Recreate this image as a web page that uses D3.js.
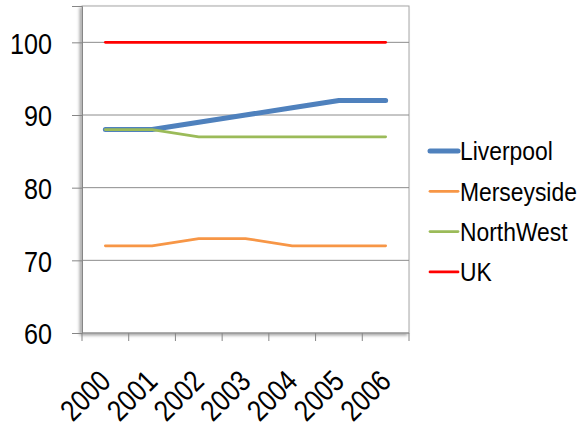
<!DOCTYPE html>
<html>
<head>
<meta charset="utf-8">
<script src="https://cdn.jsdelivr.net/npm/d3@7"></script>
<style>
  body { margin: 0; background: #fff; }
  svg text { font-family: "Liberation Sans", Arial, sans-serif; fill: #000; }
</style>
</head>
<body>
<div id="chart"></div>
<script>
const years = ["2000", "2001", "2002", "2003", "2004", "2005", "2006"];
const liverpool = [88, 88, 89, 90, 91, 92, 92];
const merseyside = [72, 72, 73, 73, 72, 72, 72];
const northWest = [88, 88, 87, 87, 87, 87, 87];
const uk = [100, 100, 100, 100, 100, 100, 100];
const yTicks = [60, 70, 80, 90, 100];

const series = [
  { name: "Liverpool", values: liverpool, color: "#4f81bd", width: 5 },
  { name: "Merseyside", values: merseyside, color: "#f79646", width: 2.75 },
  { name: "NorthWest", values: northWest, color: "#9bbb59", width: 2.75 },
  { name: "UK", values: uk, color: "#ff0000", width: 2.75 },
];

const width = 583;
const height = 425;
const margin = { top: 6, right: 174, bottom: 92, left: 82 };
const innerW = width - margin.left - margin.right;
const innerH = height - margin.top - margin.bottom;
// the reference font is a narrow sans, so squeeze a regular one
const squeeze = 0.84;

const svg = d3.select("#chart")
  .append("svg")
  .attr("width", width)
  .attr("height", height);

const defs = svg.append("defs");
const shadow = defs.append("filter")
  .attr("id", "shadow")
  .attr("x", "-5%").attr("y", "-5%")
  .attr("width", "110%").attr("height", "110%");
shadow.append("feDropShadow")
  .attr("dx", -2).attr("dy", 2)
  .attr("stdDeviation", 1.5)
  .attr("flood-color", "#000")
  .attr("flood-opacity", 0.35);

const g = svg.append("g")
  .attr("transform", `translate(${margin.left},${margin.top})`);

const x = d3.scaleBand().domain(years).range([0, innerW]);
const y = d3.scaleLinear().domain([60, 105]).range([innerH, 0]);

// plot area
g.append("rect")
  .attr("width", innerW)
  .attr("height", innerH)
  .attr("fill", "#fff")
  .attr("stroke", "#a6a6a6")
  .attr("stroke-width", 1)
  .attr("filter", "url(#shadow)");

// gridlines
g.selectAll(".grid")
  .data(yTicks.slice(1))
  .join("line")
  .attr("class", "grid")
  .attr("x1", 0)
  .attr("x2", innerW)
  .attr("y1", (d) => y(d))
  .attr("y2", (d) => y(d))
  .attr("stroke", "#8c8c8c")
  .attr("stroke-width", 1);

// y axis
const yAxis = d3.axisLeft(y)
  .tickValues(yTicks)
  .tickSize(10)
  .tickPadding(20);

const yG = g.append("g").call(yAxis);
yG.select(".domain").attr("stroke", "#868686");
yG.selectAll(".tick line").attr("stroke", "#868686");
yG.selectAll(".tick text")
  .style("font-size", "30px")
  .attr("dy", "0.36em")
  .attr("transform", function () {
    const tx = +d3.select(this).attr("x");
    return `translate(${tx * (1 - squeeze)},0) scale(${squeeze},1)`;
  });

// x axis
const xG = g.append("g")
  .attr("transform", `translate(0,${innerH})`);

xG.append("line")
  .attr("x1", 0).attr("x2", innerW)
  .attr("stroke", "#868686");

xG.selectAll(".xtick")
  .data(d3.range(years.length + 1))
  .join("line")
  .attr("class", "xtick")
  .attr("x1", (i) => i * x.step())
  .attr("x2", (i) => i * x.step())
  .attr("y1", 0)
  .attr("y2", 8)
  .attr("stroke", "#868686");

xG.selectAll(".xlabel")
  .data(years)
  .join("text")
  .attr("class", "xlabel")
  .attr("text-anchor", "end")
  .style("font-size", "30px")
  .attr("transform", (d) => `translate(${x(d) + x.bandwidth() / 2 + 7},50) rotate(-45) scale(${squeeze},1)`)
  .text((d) => d);

// lines
const line = d3.line()
  .x((d, i) => x(years[i]) + x.bandwidth() / 2)
  .y((d) => y(d));

g.selectAll(".series")
  .data(series)
  .join("path")
  .attr("class", "series")
  .attr("fill", "none")
  .attr("stroke", (d) => d.color)
  .attr("stroke-width", (d) => d.width)
  .attr("stroke-linejoin", "round")
  .attr("stroke-linecap", "round")
  .attr("d", (d) => line(d.values));

// legend
const legend = svg.append("g")
  .attr("transform", "translate(430,151)");

const item = legend.selectAll(".item")
  .data(series)
  .join("g")
  .attr("class", "item")
  .attr("transform", (d, i) => `translate(0,${i * 40.3})`);

item.append("line")
  .attr("x1", 0)
  .attr("x2", 28)
  .attr("stroke", (d) => d.color)
  .attr("stroke-width", (d) => d.width)
  .attr("stroke-linecap", "round");

item.append("text")
  .attr("dy", "0.36em")
  .attr("transform", `translate(30,0) scale(0.88,1)`)
  .style("font-size", "26px")
  .text((d) => d.name);
</script>
</body>
</html>
